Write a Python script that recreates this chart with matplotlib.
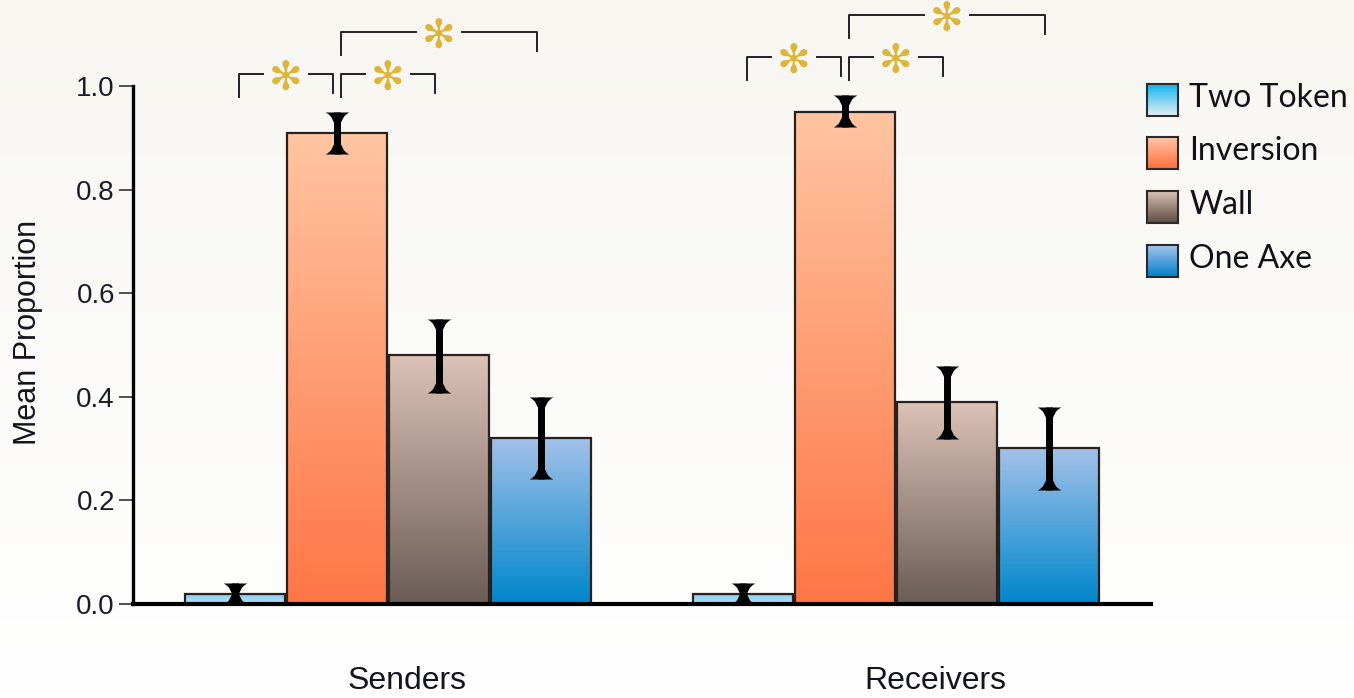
#!/usr/bin/python3
# bar chart: mean proportion per map type, senders vs receivers

import numpy as np
import matplotlib
matplotlib.use('Agg')
import matplotlib.pyplot as plt
from matplotlib.colors import LinearSegmentedColormap

groups = ['Senders', 'Receivers']
conditions = ['Two Token', 'Inversion', 'Wall', 'One Axe']

senders_mean = [0.019, 0.911, 0.480, 0.321]
senders_lo = [0.000, 0.870, 0.408, 0.240]
senders_hi = [0.039, 0.950, 0.551, 0.400]

receivers_mean = [0.019, 0.950, 0.389, 0.300]
receivers_lo = [0.000, 0.921, 0.319, 0.219]
receivers_hi = [0.039, 0.983, 0.460, 0.381]

# significant pairs: (group index, bar a, bar b, bracket level)
sig_pairs = [(0, 0, 1, 0), (0, 1, 2, 0), (0, 1, 3, 1),
             (1, 0, 1, 0), (1, 1, 2, 0), (1, 1, 3, 1)]

# gradient colours (top, bottom)
bar_grad = [('#7ECBF0', '#B4E0F4'), ('#FFC5A2', '#FF7646'),
            ('#DCC2B7', '#6C5D57'), ('#A3C1E9', '#0087CC')]
leg_grad = [('#12B4F0', '#E6EEF2'), ('#FFC6A6', '#FF6E3C'),
            ('#D8C0B4', '#5E4C46'), ('#A4C4EC', '#0080C8')]

W, H = 1354, 698
fig = plt.figure(figsize=(W / 100, H / 100), dpi=100)

# background
bg = fig.add_axes([0, 0, 1, 1], zorder=-10)
bg_cmap = LinearSegmentedColormap.from_list('bg', ['#FFFFFF', '#F7F6F1'])
bg.imshow(np.linspace(0, 1, 256).reshape(-1, 1), cmap=bg_cmap, aspect='auto',
          origin='lower', extent=(0, 1, 0, 1))
bg.set_axis_off()

ax_left, ax_right, ax_base = 133, 1151, 603.5
ax = fig.add_axes([ax_left / W, (H - ax_base) / H, (ax_right - ax_left) / W, ax_base / H])
ax.patch.set_alpha(0)

px_unit = 517.0  # pixels per 1.0 on y
step = 102.0     # pixels between bars
group_x = [0.0, 508 / step]
width = 100 / step


def gradient_fill(axis, rect, c_top, c_bot, z):
    x, y = rect.get_x(), rect.get_y()
    w, h = rect.get_width(), rect.get_height()
    cmap = LinearSegmentedColormap.from_list('g', [c_bot, c_top])
    im = axis.imshow(np.linspace(0, 1, 256).reshape(-1, 1), cmap=cmap, origin='lower',
                     extent=(x, x + w, y, y + h), aspect='auto', zorder=z)
    im.set_clip_path(rect)


top_cap = [(-1, 0), (1, 0), (0.8, -0.12), (0.55, -0.35), (0.3, -0.85),
           (-0.3, -0.85), (-0.55, -0.35), (-0.8, -0.12)]
bot_cap = [(x, -y) for x, y in top_cap]

means = [senders_mean, receivers_mean]
los = [senders_lo, receivers_lo]
his = [senders_hi, receivers_hi]

for g in range(2):
    xs = group_x[g] + np.arange(len(conditions))
    bars = ax.bar(xs, means[g], width=width, facecolor='none',
                  edgecolor='#2A201C', lw=1.6, zorder=3)
    for k, rect in enumerate(bars):
        gradient_fill(ax, rect, bar_grad[k][0], bar_grad[k][1], 2)
    ax.vlines(xs, los[g], his[g], color='black', lw=5, zorder=4)
    ax.plot(xs, his[g], ls='none', marker=top_cap, ms=17, color='black',
            mec='black', mew=0, zorder=5)
    ax.plot(xs, los[g], ls='none', marker=bot_cap, ms=17, color='black',
            mec='black', mew=0, zorder=5)

# significance brackets
for g, a, b, lev in sig_pairs:
    base = max(his[g]) + 0.075 + lev * 0.081
    x0 = group_x[g] + a + 0.04
    x1 = group_x[g] + b - 0.04
    xm = (x0 + x1) / 2
    gap = 0.23
    leg = 0.045
    ax.plot([x0, x0, xm - gap], [base - leg, base, base], color='#222222', lw=1.4,
            clip_on=False, zorder=4)
    ax.plot([xm + gap, x1, x1], [base, base, base - leg + 0.008], color='#222222',
            lw=1.4, clip_on=False, zorder=4)
    ax.text(xm, base - 0.01, '\u273b', ha='center', va='center', fontsize=29,
            color='#DDB53A', family='DejaVu Sans', zorder=5)

ax.set_xlim(-(235 - ax_left) / step, (ax_right - 235) / step)
ax.set_ylim(0, ax_base / px_unit)

for s in ['top', 'right']:
    ax.spines[s].set_visible(False)
ax.spines['left'].set_bounds(0, 1)
ax.spines['left'].set_linewidth(2.4)
ax.spines['bottom'].set_linewidth(3.0)
ax.spines['left'].set_zorder(6)
ax.spines['bottom'].set_zorder(6)

ax.set_yticks([0, 0.2, 0.4, 0.6, 0.8, 1.0])
ax.set_yticklabels(['0.0', '0.2', '0.4', '0.6', '0.8', '1.0'],
                   family='Liberation Sans', fontsize=20, color='#1C1C28')
ax.tick_params(axis='y', length=10, width=1.2, color='#333333', pad=3)
ax.set_xticks([])

# group labels
label_px = [407, 935]
for name, px in zip(groups, label_px):
    fig.text(px / W, 1 - 681 / H, name, ha='center', va='center',
             family='Liberation Sans', fontsize=23, color='#14141E')

fig.text(28 / W, 1 - 332 / H, 'Mean Proportion', rotation=90, ha='center', va='center',
         family='Liberation Sans', fontsize=22, color='#14141E')

# legend
patch_top = [84, 137, 191, 245]
for k, name in enumerate(conditions):
    lx = fig.add_axes([1147 / W, 1 - (patch_top[k] + 32) / H, 31 / W, 32 / H])
    cm = LinearSegmentedColormap.from_list('l', [leg_grad[k][1], leg_grad[k][0]])
    lx.imshow(np.linspace(0, 1, 64).reshape(-1, 1), cmap=cm, origin='lower',
              aspect='auto', extent=(0, 1, 0, 1))
    lx.set_xticks([])
    lx.set_yticks([])
    for s in lx.spines.values():
        s.set_linewidth(1.5)
        s.set_color('#2A2A2A')
    fig.text(1189 / W, 1 - (patch_top[k] + 23) / H, name, ha='left', va='baseline',
             family='Lato', fontsize=23, color='#111118')

fig.savefig('out.png', dpi=100, facecolor=fig.get_facecolor())
